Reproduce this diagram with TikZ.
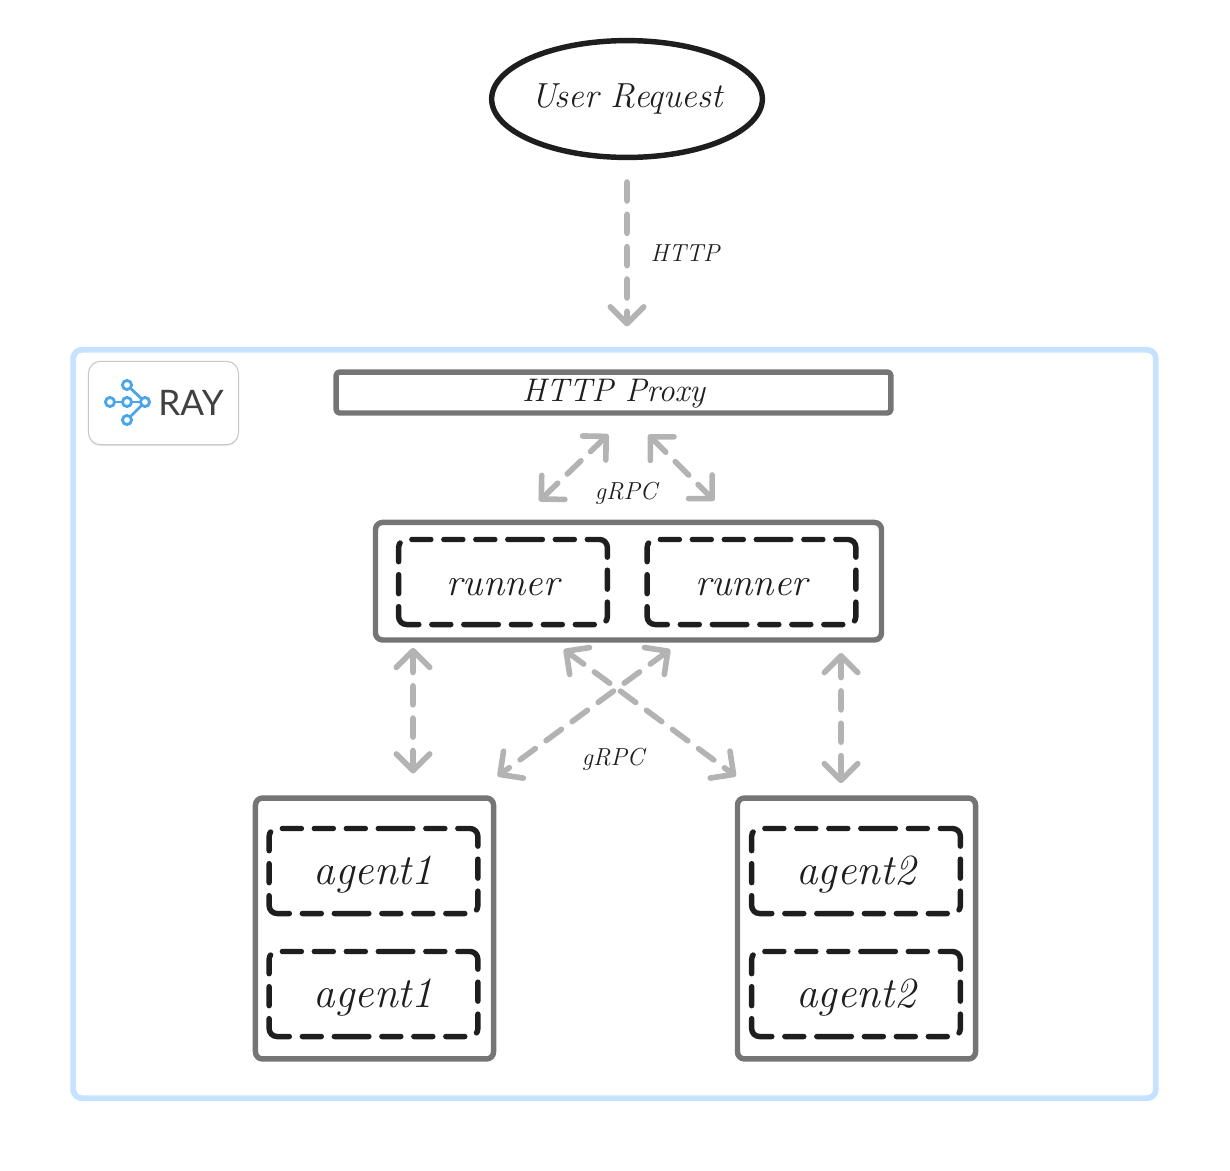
\documentclass[tikz,border=0pt]{standalone}
\usepackage{fontspec}
\usetikzlibrary{arrows.meta,shapes.geometric,shadows}
\newfontfamily\rayfont{Lato}
\definecolor{rayBlue}{HTML}{4AA5E8}
\definecolor{frameBlue}{HTML}{C6E2FF}
\definecolor{boxGray}{HTML}{757575}
\definecolor{linkGray}{HTML}{B3B3B3}
\definecolor{inkBlack}{HTML}{1E1E1E}
\begin{document}
\begin{tikzpicture}
                [x=0.02cm, y=-0.02cm, line join=round,
        barbTip/.tip={Straight Barb[length=9.5pt,width=19pt,round]},
        hand/.style={font=\itshape\fontsize{#1}{#1}\selectfont, text=inkBlack, text height=15.4pt, text depth=0pt},
        handSpaced/.style={font=\itshape\fontsize{#1}{#1}\selectfont\addfontfeature{LetterSpace=14}, text=inkBlack},
        solidBox/.style={rectangle, draw=boxGray, line width=3.1pt, rounded corners=4pt, inner sep=0pt, outer sep=0pt},
        dashBox/.style={rectangle, draw=inkBlack, line width=3.1pt, rounded corners=4.5pt, line cap=round, inner sep=0pt, outer sep=0pt, minimum width=118.8pt, minimum height=48.4pt,
            dash pattern=on 6.9pt off 7.4pt on 10.8pt off 7.4pt on 19.67pt off 7.4pt on 10.8pt off 7.4pt on 10.8pt off 7.4pt on 10.8pt off 7.4pt on 10.8pt off 7.4pt on 10.8pt off 7.4pt on 19.67pt off 7.4pt on 10.8pt off 7.4pt on 19.67pt off 7.4pt on 10.8pt off 7.4pt on 10.8pt off 7.4pt on 10.8pt off 7.4pt on 10.8pt off 7.4pt on 10.8pt off 7.4pt on 12.77pt off 0pt},
        link/.style={draw=linkGray, line width=3.2pt, line cap=round, dash pattern=on 10.8pt off 7.6pt, barbTip-barbTip},
        linkOne/.style={draw=linkGray, line width=3.2pt, line cap=round, dash pattern=on 10.8pt off 7.6pt, -barbTip},
        rayDot/.style={circle, draw=rayBlue, line width=1.6pt, fill=white, minimum size=5.2pt, inner sep=0pt, outer sep=0pt}]
                \useasboundingbox (0,0) rectangle (1230,1170);

                % outer ray frame
                \node[rectangle, draw=frameBlue, line width=3.3pt, rounded corners=5pt, minimum width=616.2pt, minimum height=426pt, inner sep=0pt, outer sep=0pt] (frame) at (614.5,724) {};
                \node[rectangle, draw=black!22, line width=0.6pt, fill=white, rounded corners=7pt, minimum width=85.5pt, minimum height=47.5pt, drop shadow={opacity=0.12, shadow xshift=0pt, shadow yshift=-1pt}] (card) at (163.5,403) {};

                % ray logo
                \node[rayDot] (logoA) at (110,402) {};
                \node[rayDot] (logoB) at (127,402) {};
                \node[rayDot] (logoC) at (127,385) {};
                \node[rayDot] (logoD) at (127,420) {};
                \node[rayDot] (logoE) at (145,402) {};
                \draw[rayBlue, line width=1.6pt] (logoA) -- (logoB);
                \draw[rayBlue, line width=1.6pt] (logoB) -- (logoE);
                \draw[rayBlue, line width=1.6pt] (logoC) -- (logoE);
                \draw[rayBlue, line width=1.6pt] (logoD) -- (logoE);
                \node[font=\rayfont\fontsize{20}{20}\selectfont, text=black!75, inner sep=0pt] (rayText) at (191,403) {RAY};

                % main nodes
                \node[ellipse, draw=inkBlack, line width=3.1pt, minimum width=151pt, minimum height=66.5pt, inner sep=0pt, outer sep=0pt, hand=19.8, text height=9.2pt] (user) at (627,99) {User Request};
                \node[solidBox, rounded corners=2pt, hand=18.6, text height=10.8pt, minimum width=315.8pt, minimum height=23.3pt] (proxy) at (613.5,392.5) {HTTP Proxy};
                \node[solidBox, minimum width=288pt, minimum height=66.9pt] (runners) at (628.5,581.2) {};
                \node[dashBox, hand=22] (runnerA) at (503,582) {runner};
                \node[dashBox, hand=22] (runnerB) at (751.5,582) {runner};
                \node[solidBox, minimum width=135.5pt, minimum height=148.5pt] (groupA) at (374.5,928.5) {};
                \node[solidBox, minimum width=135.5pt, minimum height=148.5pt] (groupB) at (856.5,928.5) {};
                \node[dashBox, hand=24.5] (agentA) at (373.5,871) {agent1};
                \node[dashBox, hand=24.5] (agentB) at (373.5,994) {agent1};
                \node[dashBox, hand=24.5] (agentC) at (856,871) {agent2};
                \node[dashBox, hand=24.5] (agentD) at (856,994) {agent2};

                % links
                \draw[linkOne, shorten <=14pt, shorten >=26pt] (user.south) -- ([shift={(13.5,0)}]proxy.north);
                \draw[link, shorten <=17.6pt, shorten >=17.6pt] ([shift={(17,0)}]proxy.south) -- ([shift={(-111.5,0)}]runners.north);
                \draw[link, shorten <=17.6pt, shorten >=17.6pt] ([shift={(13,0)}]proxy.south) -- ([shift={(107.5,0)}]runners.north);
                \draw[link, shorten <=4.5pt, shorten >=14pt] ([shift={(-215.5,0)}]runners.south) -- ([shift={(38.5,0)}]groupA.north);
                \draw[link, shorten <=7.4pt, shorten >=8.5pt] ([shift={(212.5,0)}]runners.south) -- ([shift={(-15.5,0)}]groupB.north);
                \draw[link, shorten <=9.1pt, shorten >=21pt] ([shift={(-77.5,0)}]runners.south) -- ([shift={(-91,0)}]groupB.north);
                \draw[link, shorten <=9.1pt, shorten >=21pt] ([shift={(54.5,0)}]runners.south) -- ([shift={(93.5,0)}]groupA.north);

                % link labels
                \node[handSpaced=14] (httpLabel) at (685,253) {HTTP};
                \node[handSpaced=14] (grpcTop) at (626,493) {gRPC};
                \node[handSpaced=14] (grpcBottom) at (613,759) {gRPC};
            \end{tikzpicture}
\end{document}
